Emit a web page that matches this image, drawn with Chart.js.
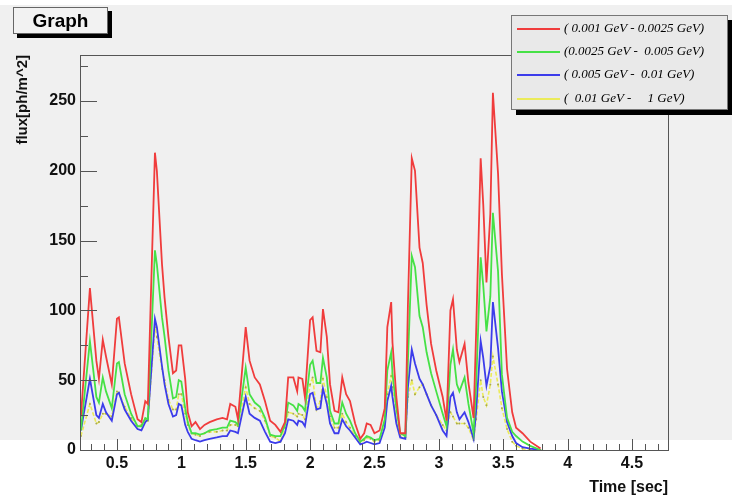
<!DOCTYPE html>
<html>
<head>
<meta charset="utf-8">
<script src="https://cdn.jsdelivr.net/npm/chart.js@4.4.1/dist/chart.umd.min.js"></script>
<style>
  html, body { margin: 0; padding: 0; }
  body {
    width: 732px; height: 499px; overflow: hidden; position: relative;
    background: linear-gradient(#ffffff 0 5px, #f0f0f0 5px 440px, #ffffff 440px);
    font-family: "Liberation Sans", Arial, sans-serif;
  }
  #wrap { position: absolute; left: 0; top: 0; width: 732px; height: 499px; }
  #title {
    position: absolute; left: 13px; top: 7px; width: 93px; height: 25px;
    border: 1px solid #666; background: #f2f2f2; box-shadow: 4px 4px 0 #000;
    font-weight: bold; font-size: 19px; line-height: 25px; text-align: center;
  }
  #legend {
    position: absolute; left: 511px; top: 15px; width: 215px; height: 92px;
    border: 1px solid #777; background: #e9e9e9; box-shadow: 5px 5px 0 #000;
    padding-top: 1px;
  }
  .row { height: 23.2px; position: relative; }
  .sw { position: absolute; left: 5px; top: 11px; width: 43px; height: 2px; }
  .lb {
    position: absolute; left: 52px; top: 3px; white-space: pre;
    font-family: "Liberation Serif", "DejaVu Serif", serif; font-style: italic; font-size: 13px;
  }
</style>
</head>
<body>
<div id="wrap"><canvas id="graph" width="732" height="499"></canvas></div>
<div id="title">Graph</div>
<div id="legend"></div>
<script>
// time [sec]
var times = [0.22, 0.29, 0.34, 0.36, 0.39, 0.415, 0.46, 0.50, 0.515, 0.56,
  0.61, 0.66, 0.69, 0.72, 0.74, 0.795, 0.81, 0.85, 0.87, 0.90,
  0.935, 0.96, 0.98, 1.00, 1.03, 1.05, 1.08, 1.11, 1.145, 1.18,
  1.22, 1.275, 1.32, 1.355, 1.38, 1.42, 1.44, 1.50, 1.53, 1.57,
  1.61, 1.65, 1.69, 1.73, 1.77, 1.805, 1.83, 1.87, 1.90, 1.91,
  1.94, 1.96, 2.00, 2.02, 2.05, 2.08, 2.10, 2.13, 2.155, 2.19,
  2.22, 2.25, 2.28, 2.31, 2.35, 2.39, 2.42, 2.44, 2.47, 2.50,
  2.54, 2.58, 2.60, 2.63, 2.64, 2.67, 2.70, 2.74, 2.76, 2.79,
  2.815, 2.85, 2.875, 2.905, 2.94, 2.98, 3.03, 3.06, 3.09, 3.11,
  3.14, 3.16, 3.20, 3.23, 3.27, 3.29, 3.325, 3.345, 3.37, 3.40,
  3.42, 3.46, 3.49, 3.53, 3.57, 3.60, 3.65, 3.71, 3.79];

// flux per energy band
var band1 = [24, 116, 64, 51, 79, 67, 47, 94, 95, 62,
  40, 22, 20, 35, 33, 213, 200, 133, 109, 81,
  55, 57, 75, 75, 51, 27, 17, 20, 15, 18,
  20, 22, 23, 22, 33, 31, 22, 88, 64, 52,
  47, 35, 21, 18, 13, 20, 52, 52, 42, 52,
  51, 38, 93, 95, 71, 70, 101, 81, 47, 28,
  27, 52, 40, 35, 19, 8, 12, 19, 18, 12,
  14, 30, 88, 106, 77, 38, 12, 12, 104, 209,
  200, 145, 134, 104, 76, 57, 38, 21, 100, 108,
  72, 63, 76, 48, 23, 85, 209, 176, 120, 169,
  256, 198, 126, 58, 27, 16, 12, 6, 1];
var band2 = [14, 78, 38, 34, 52, 42, 30, 62, 63, 40,
  26, 17, 17, 23, 22, 143, 133, 95, 81, 57,
  37, 38, 50, 49, 30, 20, 12, 12, 11, 12,
  14, 15, 16, 16, 21, 20, 18, 59, 40, 34,
  31, 23, 11, 10, 10, 18, 34, 32, 28, 33,
  31, 28, 61, 64, 48, 48, 66, 52, 28, 19,
  19, 34, 26, 21, 12, 6, 8, 10, 9, 7,
  8, 22, 57, 70, 55, 30, 12, 10, 64, 139,
  131, 96, 88, 70, 55, 42, 26, 17, 61, 72,
  47, 42, 52, 33, 12, 47, 138, 118, 85, 110,
  170, 128, 54, 23, 13, 10, 6, 3, 0];
var band3 = [14, 51, 25, 23, 33, 27, 21, 40, 41, 29,
  21, 15, 14, 20, 22, 94, 88, 60, 47, 33,
  24, 25, 33, 32, 18, 13, 8, 7, 6, 7,
  8, 9, 10, 10, 14, 13, 12, 38, 26, 23,
  21, 13, 6, 5, 6, 12, 22, 21, 18, 21,
  20, 17, 40, 41, 29, 30, 44, 33, 19, 12,
  12, 22, 17, 14, 9, 4, 5, 6, 5, 4,
  5, 16, 35, 46, 38, 19, 9, 8, 45, 72,
  62, 51, 47, 40, 32, 25, 14, 10, 38, 41,
  27, 22, 27, 20, 8, 28, 78, 66, 46, 60,
  106, 73, 42, 20, 10, 5, 2, 1, 0];
var band4 = [10, 33, 19, 20, 26, 26, 24, 42, 41, 31,
  23, 17, 18, 22, 21, 88, 81, 58, 50, 36,
  29, 29, 40, 40, 26, 18, 12, 11, 10, 12,
  13, 13, 14, 14, 18, 18, 17, 45, 33, 30,
  28, 21, 10, 9, 6, 16, 27, 26, 24, 26,
  25, 22, 47, 52, 29, 35, 51, 38, 24, 16,
  16, 26, 20, 16, 10, 5, 7, 9, 8, 6,
  7, 19, 40, 53, 45, 21, 10, 9, 38, 50,
  40, 45, 47, 40, 32, 25, 18, 14, 27, 24,
  19, 19, 19, 16, 7, 22, 50, 38, 32, 47,
  67, 47, 30, 15, 6, 3, 1, 0, 0];

var bandLabels = ["( 0.001 GeV - 0.0025 GeV)", "(0.0025 GeV -  0.005 GeV)",
  "( 0.005 GeV -  0.01 GeV)", "(  0.01 GeV -     1 GeV)"];
var xTicks = [0.5, 1, 1.5, 2, 2.5, 3, 3.5, 4, 4.5];
var yTicks = [0, 50, 100, 150, 200, 250];

function points(vals) {
  return times.map(function (t, i) { return {x: t, y: vals[i]}; });
}

// frame around the pad plus inward ROOT style tick marks
var frameTicks = {
  id: "frameTicks",
  afterDatasetsDraw: function (chart) {
    var ctx = chart.ctx, a = chart.chartArea, x = chart.scales.x, y = chart.scales.y;
    ctx.save();
    ctx.strokeStyle = "#555";
    ctx.lineWidth = 1;
    ctx.strokeRect(a.left + 0.5, a.top + 0.5, a.width, a.height);
    ctx.beginPath();
    for (var v = 0; v <= y.max; v += 25) {
      var py = Math.round(y.getPixelForValue(v)) + 0.5;
      var len = v % 50 === 0 ? 17 : 8;
      ctx.moveTo(a.left, py);
      ctx.lineTo(a.left + len, py);
    }
    for (var k = Math.ceil(x.min * 10); k <= x.max * 10; k++) {
      var px = Math.round(x.getPixelForValue(k / 10)) + 0.5;
      var l = k % 5 === 0 ? 11 : 6;
      ctx.moveTo(px, a.bottom);
      ctx.lineTo(px, a.bottom - l);
    }
    ctx.stroke();
    ctx.restore();
  }
};

var tickFont = {family: "'Liberation Sans', Arial, sans-serif", size: 16, weight: "bold"};

var chart = new Chart(document.getElementById("graph"), {
  type: "line",
  data: {
    datasets: [{
      label: bandLabels[0], data: points(band1),
      borderColor: "rgb(240, 60, 60)", borderWidth: 1.8
    }, {
      label: bandLabels[1], data: points(band2),
      borderColor: "rgb(70, 225, 70)", borderWidth: 1.8
    }, {
      label: bandLabels[2], data: points(band3),
      borderColor: "rgb(60, 60, 235)", borderWidth: 1.8
    }, {
      label: bandLabels[3], data: points(band4),
      borderColor: "rgb(235, 235, 90)", borderWidth: 1.6, borderDash: [4, 2],
      pointRadius: 1, pointBackgroundColor: "#a8a850", pointBorderWidth: 0
    }]
  },
  options: {
    responsive: false,
    animation: false,
    elements: {line: {tension: 0}, point: {radius: 0}},
    layout: {padding: {top: 55, right: 64, left: 0, bottom: 0}},
    plugins: {legend: {display: false}, tooltip: {enabled: false}},
    scales: {
      x: {
        type: "linear", min: 0.213, max: 4.78,
        grid: {display: false, drawTicks: false}, border: {display: false},
        afterBuildTicks: function (s) { s.ticks = xTicks.map(function (v) { return {value: v}; }); },
        afterFit: function (s) { s.height = 49; },
        ticks: {
          font: tickFont, color: "#111", padding: 4, maxRotation: 0, autoSkip: false,
          callback: function (v) { return String(Math.round(v * 10) / 10); }
        },
        title: {display: true, text: "Time [sec]", align: "end", color: "#111",
          font: {family: "'Liberation Sans', Arial, sans-serif", size: 16, weight: "bold"},
          padding: {top: 0, bottom: 2}}
      },
      y: {
        min: 0, max: 283,
        grid: {display: false, drawTicks: false}, border: {display: false},
        afterBuildTicks: function (s) { s.ticks = yTicks.map(function (v) { return {value: v}; }); },
        afterFit: function (s) { s.width = 80; },
        ticks: {font: tickFont, color: "#111", padding: 4},
        title: {display: true, text: "flux[ph/m^2]", align: "end", color: "#111",
          font: {family: "'Liberation Sans', Arial, sans-serif", size: 15, weight: "bold"},
          padding: {top: 14, bottom: 0}}
      }
    }
  },
  plugins: [frameTicks]
});

// legend box built from the chart datasets
var legendBox = document.getElementById("legend");
chart.data.datasets.forEach(function (ds) {
  var row = document.createElement("div");
  row.className = "row";
  var sw = document.createElement("span");
  sw.className = "sw";
  sw.style.background = ds.borderColor;
  var lb = document.createElement("span");
  lb.className = "lb";
  lb.textContent = ds.label;
  row.appendChild(sw);
  row.appendChild(lb);
  legendBox.appendChild(row);
});
</script>
</body>
</html>
